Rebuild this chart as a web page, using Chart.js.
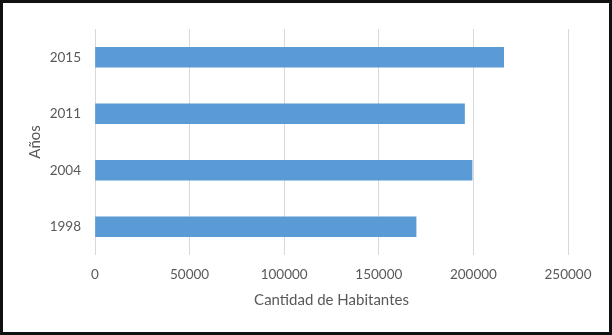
<!DOCTYPE html>
<html>
<head>
<meta charset="utf-8">
<script src="https://cdn.jsdelivr.net/npm/chart.js@4"></script>
<style>
    html, body { margin: 0; padding: 0; background: #fff; }
    #wrap { position: relative; width: 612px; height: 335px; }
</style>
</head>
<body>
<div id="wrap"><canvas id="chart" width="612" height="335"></canvas></div>
<script>
    // Data
    const years = ['2015', '2011', '2004', '1998'];
    const habitantes = [216000, 195300, 199300, 169700];
    const xTicks = [0, 50000, 100000, 150000, 200000, 250000];

    const textColor = '#595959';
    const fontFamily = 'Lato, "Open Sans", sans-serif';

    // Outer frame like the pasted image border
    const framePlugin = {
        id: 'frame',
        afterDraw: function(chart) {
            const ctx = chart.ctx;
            ctx.save();
            ctx.strokeStyle = '#111';
            ctx.lineWidth = 3;
            ctx.strokeRect(1.5, 1.5, chart.width - 3, chart.height - 3);
            ctx.restore();
        }
    };

    new Chart(document.getElementById('chart'), {
        type: 'bar',
        data: {
            labels: years,
            datasets: [{
                label: 'Cantidad de Habitantes',
                data: habitantes,
                backgroundColor: '#5B9BD5',
                borderWidth: 0,
                barThickness: 20
            }]
        },
        options: {
            indexAxis: 'y',
            responsive: false,
            animation: false,
            layout: { padding: { left: 0, right: 44, top: 29, bottom: 0 } },
            plugins: { legend: { display: false }, tooltip: { enabled: false } },
            scales: {
                x: {
                    min: 0,
                    max: 250000,
                    afterBuildTicks: function(axis) {
                        axis.ticks = xTicks.map(v => ({ value: v }));
                    },
                    afterFit: function(axis) { axis.height = 80; },
                    grid: { color: '#D9D9D9', lineWidth: 1, drawTicks: false },
                    border: { display: false },
                    ticks: {
                        color: textColor,
                        padding: 12,
                        maxRotation: 0,
                        font: { family: fontFamily, size: 13.5 },
                        callback: function(value) { return String(value); }
                    },
                    title: {
                        display: true,
                        text: 'Cantidad de Habitantes',
                        color: textColor,
                        font: { family: fontFamily, size: 15 },
                        padding: { top: 0, bottom: 26 }
                    }
                },
                y: {
                    afterFit: function(axis) { axis.width = 95; },
                    grid: { display: false, drawTicks: false },
                    border: { display: false },
                    ticks: {
                        color: textColor,
                        padding: 14,
                        font: { family: fontFamily, size: 13.5 }
                    },
                    title: {
                        display: true,
                        text: 'Años',
                        color: textColor,
                        font: { family: fontFamily, size: 15 },
                        padding: { top: 26, bottom: 0 }
                    }
                }
            }
        },
        plugins: [framePlugin]
    });
</script>
</body>
</html>
